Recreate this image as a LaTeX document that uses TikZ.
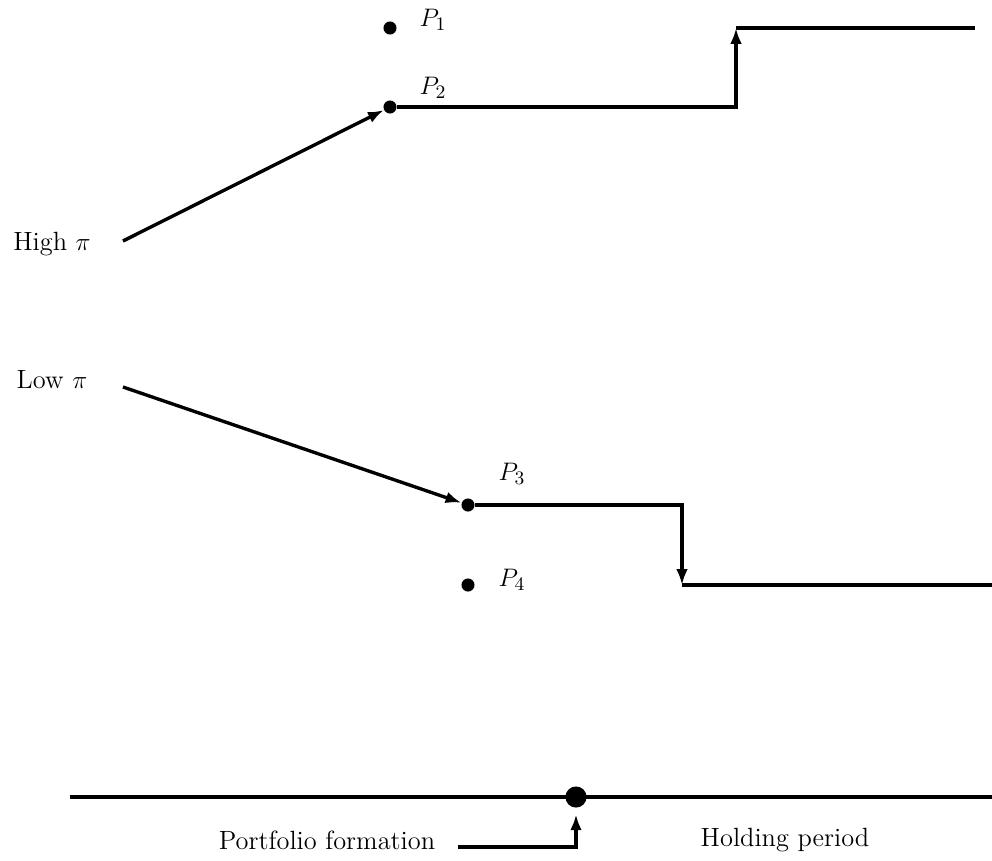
\documentclass[tikz,border=0pt]{standalone}
\usetikzlibrary{arrows.meta}
\begin{document}
\begin{tikzpicture}[x=0.474pt,y=-0.474pt,
  font=\fontsize{12.5}{15}\selectfont,
  line/.style={line width=1.6pt},
  tip/.style={-{Latex[length=7.5pt,width=5.5pt]}},
  arr/.style={line,tip},
  dot/.style={circle,fill=black,inner sep=0pt,minimum size=6.2pt},
  bigdot/.style={circle,fill=black,inner sep=0pt,minimum size=10pt},
  lbl/.style={inner sep=1pt}]
\useasboundingbox (0,0) rectangle (992,860);
% upper group
\node[dot] (p1) at (390,28) {};
\node[lbl] (l1) at (433,20) {$P_1$};
\node[dot] (p2) at (390,107) {};
\node[lbl] (l2) at (433,88) {$P_2$};
\node[lbl] (high) at (52,244) {High $\pi$};
\coordinate (hs) at (123,241);
\coordinate (c1) at (736,28);
\coordinate (e1) at (975,28);
\draw[arr] (hs) -- (p2);
\draw[arr] (p2) -| (c1);
\draw[line] (c1) -- (e1);
% lower group
\node[lbl] (low) at (52,380) {Low $\pi$};
\coordinate (ls) at (123,387);
\node[dot] (p3) at (468,505) {};
\node[lbl] (l3) at (512,474) {$P_3$};
\node[dot] (p4) at (468,585) {};
\node[lbl] (l4) at (512,580) {$P_4$};
\coordinate (c2) at (682,585);
\coordinate (e2) at (992,585);
\draw[arr] (ls) -- (p3);
\draw[arr] (p3) -| (c2);
\draw[line] (c2) -- (e2);
% time line
\coordinate (t0) at (70,797);
\coordinate (t1) at (992,797);
\draw[line] (t0) -- (t1);
\node[bigdot] (form) at (576,797) {};
\node[lbl] (pf) at (327,840) {Portfolio formation};
\node[lbl] (hp) at (785,840) {Holding period};
\coordinate (fs) at (458,847);
\draw[arr] (fs) -| ([yshift=-3pt]form.south);
\end{tikzpicture}
\end{document}
